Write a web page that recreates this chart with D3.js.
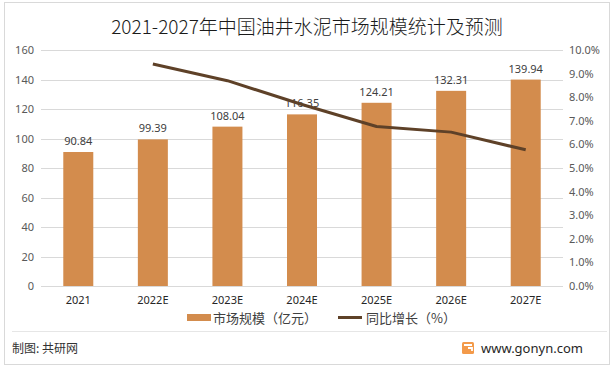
<!DOCTYPE html>
<html>
<head>
<meta charset="utf-8">
<script src="https://cdn.jsdelivr.net/npm/d3@7"></script>
<style>
  body { margin: 0; background: #fff; }
  svg { display: block; font-family: "Noto Sans CJK SC", "Noto Sans", sans-serif; }
</style>
</head>
<body>
<div id="chart"></div>
<script>
const years = ['2021', '2022E', '2023E', '2024E', '2025E', '2026E', '2027E'];
const marketSize = [90.84, 99.39, 108.04, 116.35, 124.21, 132.31, 139.94];
// growth in %, first year has no value
const growth = [null, 9.41, 8.70, 7.69, 6.76, 6.52, 5.77];
const leftTicks = [0, 20, 40, 60, 80, 100, 120, 140, 160];
const rightTicks = [0, 1, 2, 3, 4, 5, 6, 7, 8, 9, 10];

const W = 614, H = 369;
const plot = { left: 41, right: 563, top: 50, bottom: 286 };

const svg = d3.select('#chart').append('svg')
  .attr('width', W)
  .attr('height', H);

// frame
svg.append('rect')
  .attr('x', 4.5).attr('y', 2.5)
  .attr('width', 605).attr('height', 362)
  .attr('fill', '#fff')
  .attr('stroke', '#d9d9d9');

svg.append('line')
  .attr('x1', 12).attr('x2', 607)
  .attr('y1', 331.5).attr('y2', 331.5)
  .attr('stroke', '#e6e6e6');

svg.append('text')
  .attr('x', 307).attr('y', 34)
  .attr('text-anchor', 'middle')
  .attr('font-size', 19)
  .attr('font-weight', 300)
  .attr('fill', '#1a1a1a')
  .text('2021-2027年中国油井水泥市场规模统计及预测');

const x = d3.scaleBand()
  .domain(years)
  .range([plot.left, plot.right]);

const yL = d3.scaleLinear().domain([0, 160]).range([plot.bottom, plot.top]);
const yR = d3.scaleLinear().domain([0, 10]).range([plot.bottom, plot.top]);

// gridlines
svg.append('g')
  .selectAll('line')
  .data(leftTicks)
  .enter()
  .append('line')
  .attr('x1', plot.left).attr('x2', plot.right)
  .attr('y1', d => Math.round(yL(d)) + 0.5)
  .attr('y2', d => Math.round(yL(d)) + 0.5)
  .attr('stroke', '#d9d9d9');

// left axis
const axisL = svg.append('g')
  .attr('transform', 'translate(' + (plot.left - 7) + ',0)')
  .call(d3.axisLeft(yL).tickValues(leftTicks).tickSize(0).tickPadding(0));
axisL.select('.domain').remove();
axisL.selectAll('text')
  .attr('font-size', 11)
  .attr('fill', '#595959')
  .style('font-family', '"Noto Sans", sans-serif');

// right axis
const axisR = svg.append('g')
  .attr('transform', 'translate(' + (plot.right + 6) + ',0)')
  .call(d3.axisRight(yR).tickValues(rightTicks).tickSize(0).tickPadding(0)
    .tickFormat(d => d.toFixed(1) + '%'));
axisR.select('.domain').remove();
axisR.selectAll('text')
  .attr('font-size', 11)
  .attr('fill', '#595959')
  .style('font-family', '"Noto Sans", sans-serif');

// bottom axis labels
const axisB = svg.append('g')
  .attr('transform', 'translate(0,' + (plot.bottom + 6) + ')')
  .call(d3.axisBottom(x).tickSize(0).tickPadding(4));
axisB.select('.domain').remove();
axisB.selectAll('text')
  .attr('font-size', 11)
  .attr('fill', '#262626')
  .style('font-family', '"Noto Sans", sans-serif');

// bars
const barW = 30;
svg.append('g')
  .selectAll('rect')
  .data(marketSize)
  .enter()
  .append('rect')
  .attr('x', (d, i) => x(years[i]) + x.bandwidth() / 2 - barW / 2)
  .attr('y', d => yL(d))
  .attr('width', barW)
  .attr('height', d => plot.bottom - yL(d))
  .attr('fill', '#d38c4d');

// bar labels
svg.append('g')
  .selectAll('text')
  .data(marketSize)
  .enter()
  .append('text')
  .attr('x', (d, i) => x(years[i]) + x.bandwidth() / 2)
  .attr('y', d => yL(d) - 7)
  .attr('text-anchor', 'middle')
  .attr('font-size', 11)
  .attr('fill', '#404040')
  .style('font-family', '"Noto Sans", sans-serif')
  .text(d => d.toFixed(2));

// growth line
const lineData = years.map((yr, i) => ({ yr: yr, v: growth[i] })).filter(d => d.v !== null);
svg.append('path')
  .datum(lineData)
  .attr('fill', 'none')
  .attr('stroke', '#5e4128')
  .attr('stroke-width', 3)
  .attr('stroke-linejoin', 'round')
  .attr('d', d3.line()
    .x(d => x(d.yr) + x.bandwidth() / 2)
    .y(d => yR(d.v)));

// legend
const legend = svg.append('g').attr('font-size', 13).attr('fill', '#404040');
legend.append('rect')
  .attr('x', 187).attr('y', 314)
  .attr('width', 24).attr('height', 7)
  .attr('fill', '#d38c4d');
legend.append('text')
  .attr('x', 213).attr('y', 323)
  .text('市场规模（亿元）');
legend.append('line')
  .attr('x1', 338).attr('x2', 362)
  .attr('y1', 317.5).attr('y2', 317.5)
  .attr('stroke', '#5e4128')
  .attr('stroke-width', 3);
legend.append('text')
  .attr('x', 366).attr('y', 323)
  .text('同比增长（%）');

// footer
svg.append('text')
  .attr('x', 12).attr('y', 353)
  .attr('font-size', 12)
  .attr('fill', '#333')
  .text('制图: 共研网');

const logo = svg.append('g').attr('transform', 'translate(462,342)');
logo.append('rect')
  .attr('width', 12).attr('height', 12)
  .attr('rx', 1.5)
  .attr('fill', '#f39a4a');
logo.append('path')
  .attr('d', 'M2,3 H10 M6,6 H10 V9')
  .attr('fill', 'none')
  .attr('stroke', '#fff')
  .attr('stroke-width', 1.8);

svg.append('text')
  .attr('x', 481).attr('y', 353)
  .attr('font-size', 13)
  .attr('fill', '#262626')
  .style('font-family', '"Noto Sans", sans-serif')
  .text('www.gonyn.com');
</script>
</body>
</html>
